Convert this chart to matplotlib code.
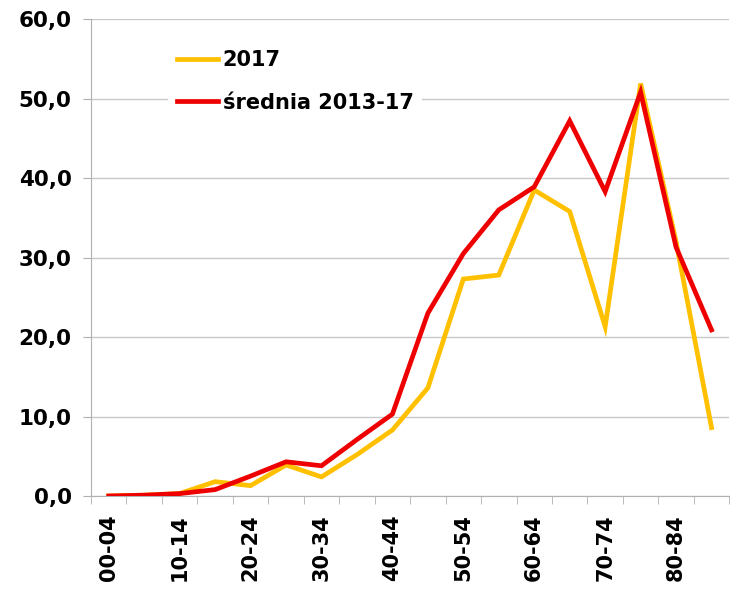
import numpy as np
import matplotlib.pyplot as plt

# age groups
groups = ['00-04', '05-09', '10-14', '15-19', '20-24', '25-29', '30-34', '35-39',
          '40-44', '45-49', '50-54', '55-59', '60-64', '65-69', '70-74', '75-79',
          '80-84', '85+']
y2017 = [0.0, 0.1, 0.3, 1.8, 1.3, 3.9, 2.4, 5.2, 8.3, 13.6, 27.3, 27.8, 38.5,
         35.8, 21.3, 51.9, 32.0, 8.6]
avg = [0.0, 0.1, 0.3, 0.8, 2.5, 4.3, 3.8, 7.1, 10.3, 23.0, 30.5, 36.0, 38.9,
       47.2, 38.3, 50.8, 31.3, 20.9]
yticks = [0, 10, 20, 30, 40, 50, 60]

plt.rcParams['font.family'] = 'DejaVu Sans'
plt.rcParams['font.weight'] = 'bold'

fig = plt.figure(figsize=(7.37, 5.99), dpi=100)
ax = fig.add_axes([0.1235, 0.172, 0.866, 0.796])

x = np.arange(len(groups))
ax.plot(x, y2017, color='#FFC000', lw=3.4, label='2017', solid_joinstyle='miter', zorder=3)
ax.plot(x, avg, color='#EE0000', lw=3.4, label='średnia 2013-17', solid_joinstyle='miter', zorder=4)

ax.set_xlim(-0.5, len(groups) - 0.5)
ax.set_ylim(0, 60)
ax.set_yticks(yticks)
ax.set_yticklabels([f'{v:.1f}'.replace('.', ',') for v in yticks], fontsize=15.5, fontweight='bold')
ax.yaxis.grid(True, color='#c8c8c8', lw=1.0)
ax.set_axisbelow(True)

ax.set_xticks(x[::2])
ax.set_xticklabels(groups[::2], rotation=90, fontsize=15, fontweight='bold')
ax.tick_params(axis='x', length=0, pad=13)
ax.set_xticks(np.arange(len(groups) + 1) - 0.5, minor=True)
ax.tick_params(axis='x', which='minor', length=6, color='#b0b0b0')
ax.tick_params(axis='y', length=6, color='#b0b0b0', pad=8)

for s in ['top', 'right']:
    ax.spines[s].set_visible(False)
for s in ['left', 'bottom']:
    ax.spines[s].set_color('#b0b0b0')

leg = ax.legend(loc='upper left', bbox_to_anchor=(0.105, 0.975), frameon=True,
                fancybox=False, edgecolor='none', facecolor='white', framealpha=1,
                handlelength=2.0, handletextpad=0.2, labelspacing=1.1,
                prop={'size': 15, 'weight': 'bold'})

fig.savefig('out.png', dpi=100)
